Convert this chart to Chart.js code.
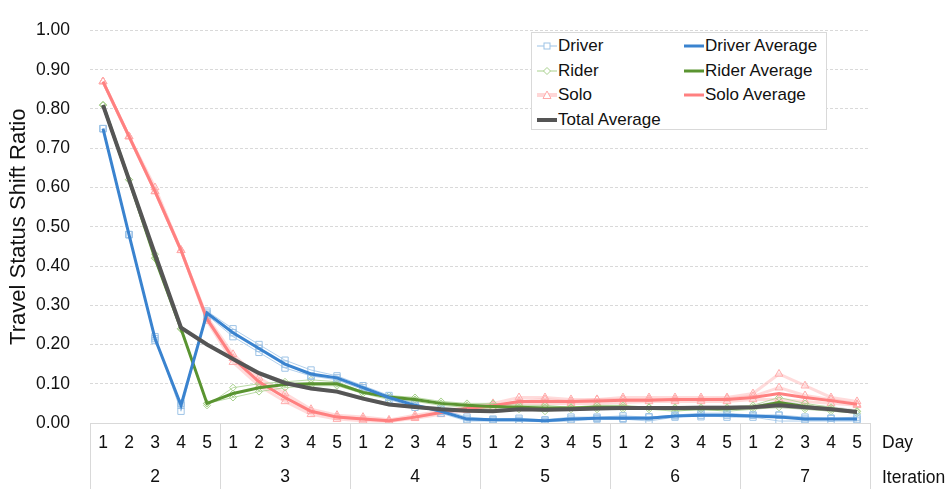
<!DOCTYPE html>
<html>
<head>
<meta charset="utf-8">
<script src="https://cdn.jsdelivr.net/npm/chart.js@4.4.0/dist/chart.umd.min.js"></script>
<style>
  body { margin: 0; background: #fff; font-family: "Liberation Sans", Arial, sans-serif; }
  #wrap { position: relative; width: 949px; height: 489px; }
  #legend { position: absolute; left: 531px; top: 32px; width: 296px; height: 98px;
            border: 1px solid #d9d9d9; background: #fff; box-sizing: border-box; }
  .item { position: absolute; height: 20px; display: flex; align-items: center;
          font-size: 17px; color: #111; white-space: nowrap; }
  .item svg { margin-right: 1px; }
  .axisname { position: absolute; left: 882px; font-size: 17.5px; color: #111; line-height: 21px; }
</style>
</head>
<body>
<div id="wrap">
  <canvas id="chart" width="949" height="489"></canvas>
  <div id="legend"></div>
  <div class="axisname" style="top:432px">Day</div>
  <div class="axisname" style="top:467px">Iteration</div>
</div>
<script>
// x axis labels
const days = ['1','2','3','4','5', '1','2','3','4','5', '1','2','3','4','5',
              '1','2','3','4','5', '1','2','3','4','5', '1','2','3','4','5'];
const iterations = ['2','3','4','5','6','7'];

// individual runs
const driverRuns = [
  [0.75,0.48,0.22,0.03,0.285, 0.24,0.2,0.16,0.135,0.12, 0.095,0.07,0.05,0.025,0.005, 0.005,0.005,0.003,0.005,0.01, 0.01,0.005,0.015,0.02,0.015, 0.015,0.005,0.005,0.005,0.005],
  [0.75,0.48,0.21,0.05,0.275, 0.22,0.18,0.14,0.12,0.11, 0.085,0.06,0.04,0.035,0.015, 0.01,0.012,0.008,0.015,0.015, 0.018,0.015,0.02,0.025,0.025, 0.02,0.02,0.015,0.012,0.015],
  [0.75,0.48,0.215,0.045,0.28, 0.23,0.19,0.15,0.12,0.115, 0.09,0.065,0.045,0.03,0.01, 0.008,0.007,0.007,0.01,0.012, 0.012,0.016,0.018,0.016,0.02, 0.02,0.02,0.01,0.012,0.01]
];
const riderRuns = [
  [0.81,0.62,0.43,0.24,0.045, 0.09,0.1,0.105,0.11,0.105, 0.08,0.07,0.065,0.055,0.05, 0.05,0.045,0.045,0.04,0.045, 0.045,0.04,0.04,0.04,0.04, 0.045,0.065,0.05,0.04,0.03],
  [0.81,0.62,0.42,0.24,0.05, 0.065,0.08,0.09,0.095,0.095, 0.075,0.06,0.055,0.045,0.04, 0.035,0.035,0.03,0.035,0.035, 0.035,0.035,0.03,0.035,0.03, 0.035,0.04,0.035,0.03,0.025],
  [0.81,0.62,0.42,0.24,0.05, 0.075,0.09,0.1,0.1,0.1, 0.08,0.065,0.06,0.05,0.045, 0.04,0.04,0.04,0.04,0.04, 0.04,0.04,0.038,0.035,0.038, 0.04,0.05,0.04,0.035,0.03]
];
const soloRuns = [
  [0.87,0.73,0.6,0.44,0.27, 0.175,0.115,0.075,0.035,0.02, 0.015,0.008,0.02,0.03,0.04, 0.05,0.065,0.065,0.06,0.06, 0.065,0.065,0.065,0.065,0.065, 0.075,0.125,0.095,0.065,0.055],
  [0.87,0.73,0.59,0.44,0.26, 0.155,0.095,0.055,0.022,0.01, 0.006,0.004,0.012,0.022,0.032, 0.04,0.05,0.05,0.05,0.05, 0.052,0.055,0.055,0.055,0.055, 0.06,0.06,0.055,0.05,0.045],
  [0.87,0.73,0.59,0.44,0.265, 0.165,0.105,0.065,0.03,0.015, 0.01,0.005,0.015,0.028,0.038, 0.045,0.055,0.06,0.055,0.06, 0.06,0.06,0.06,0.06,0.062, 0.068,0.09,0.07,0.06,0.048]
];
const totalRuns = [
  [0.81,0.62,0.43,0.245,0.2, 0.165,0.13,0.105,0.09,0.083, 0.065,0.05,0.044,0.038,0.034, 0.033,0.037,0.037,0.038,0.04, 0.04,0.04,0.04,0.042,0.042, 0.043,0.055,0.046,0.04,0.032],
  [0.81,0.62,0.43,0.24,0.2, 0.16,0.124,0.099,0.086,0.077, 0.06,0.045,0.039,0.033,0.029, 0.028,0.033,0.032,0.033,0.035, 0.036,0.036,0.036,0.037,0.037, 0.038,0.04,0.036,0.032,0.026]
];

// averages
const driverAvg = [0.75,0.48,0.215,0.045,0.28, 0.23,0.19,0.15,0.125,0.115, 0.09,0.065,0.045,0.03,0.01, 0.008,0.008,0.006,0.01,0.012, 0.013,0.012,0.018,0.02,0.02, 0.018,0.015,0.01,0.01,0.01];
const riderAvg  = [0.81,0.62,0.42,0.24,0.05, 0.075,0.09,0.098,0.1,0.1, 0.078,0.066,0.06,0.05,0.045, 0.042,0.04,0.038,0.038,0.04, 0.04,0.038,0.036,0.036,0.036, 0.04,0.052,0.042,0.036,0.028];
const soloAvg   = [0.87,0.73,0.59,0.44,0.265, 0.165,0.105,0.065,0.03,0.015, 0.01,0.006,0.015,0.027,0.037, 0.044,0.055,0.055,0.055,0.056, 0.058,0.058,0.06,0.06,0.06, 0.065,0.075,0.065,0.057,0.048];
const totalAvg  = [0.81,0.62,0.43,0.243,0.2, 0.163,0.127,0.102,0.088,0.08, 0.062,0.047,0.041,0.035,0.031, 0.03,0.035,0.034,0.035,0.037, 0.038,0.038,0.038,0.039,0.039, 0.04,0.045,0.04,0.035,0.028];

const FONT = "'Liberation Sans', Arial, sans-serif";

const datasets = [];
function addRuns(runs, label, style) {
  runs.forEach(d => {
    datasets.push(Object.assign({
      label: label, data: d, order: 10, tension: 0,
      pointBackgroundColor: 'rgba(255,255,255,0)', pointBorderWidth: 1
    }, style));
  });
}
addRuns(driverRuns, 'Driver', { borderColor: 'rgba(157,195,230,0.8)', pointBorderColor: '#9dc3e6', borderWidth: 1, pointStyle: 'rect', pointRadius: 4.5 });
addRuns(riderRuns, 'Rider', { borderColor: 'rgba(169,209,142,0.8)', pointBorderColor: '#a9d18e', borderWidth: 1, pointStyle: 'rectRot', pointRadius: 3.5 });
addRuns(soloRuns, 'Solo', { borderColor: 'rgba(255,175,175,0.45)', pointBorderColor: '#ffaaaa', borderWidth: 3, pointStyle: 'triangle', pointRadius: 4.5 });
addRuns(totalRuns, 'Total', { borderColor: 'rgba(200,200,200,0.7)', borderWidth: 2, pointRadius: 0 });

datasets.push({ label: 'Driver Average', data: driverAvg, borderColor: '#3a83cf', borderWidth: 3, pointRadius: 0, order: 2 });
datasets.push({ label: 'Rider Average', data: riderAvg, borderColor: '#5a9431', borderWidth: 3, pointRadius: 0, order: 2 });
datasets.push({ label: 'Solo Average', data: soloAvg, borderColor: '#ff8080', borderWidth: 3, pointRadius: 0, order: 2 });
datasets.push({ label: 'Total Average', data: totalAvg, borderColor: '#555555', borderWidth: 4, pointRadius: 0, order: 1 });

// vertical separators of the two-level x axis
const groupLines = {
  id: 'groupLines',
  afterDraw(chart) {
    const xs = chart.scales.x, ctx = chart.ctx;
    const per = days.length / iterations.length;
    ctx.save();
    ctx.strokeStyle = '#d9d9d9';
    ctx.lineWidth = 1;
    for (let k = 0; k <= iterations.length; k++) {
      const px = Math.round(xs.getPixelForValue(k * per - 0.5)) + 0.5;
      ctx.beginPath();
      ctx.moveTo(px, xs.top);
      ctx.lineTo(px, chart.height);
      ctx.stroke();
    }
    ctx.restore();
  }
};

new Chart(document.getElementById('chart'), {
  type: 'line',
  data: { labels: days, datasets: datasets },
  plugins: [groupLines],
  options: {
    responsive: false,
    animation: false,
    layout: { padding: { top: 17, right: 79, left: 0, bottom: 0 } },
    plugins: { legend: { display: false }, tooltip: { enabled: false } },
    scales: {
      y: {
        min: 0, max: 1,
        ticks: { stepSize: 0.1, padding: 20, color: '#111', font: { family: FONT, size: 17.5 },
                 callback: v => v.toFixed(2) },
        grid: { color: '#d9d9d9', drawTicks: false },
        border: { display: false, dash: [3, 2] },
        title: { display: true, text: 'Travel Status Shift Ratio', color: '#111',
                 font: { family: FONT, size: 22 }, padding: { top: 6, bottom: 0 } },
        afterFit: s => { s.width = 90; }
      },
      x: {
        weight: 0,
        offset: true,
        ticks: { padding: 10, color: '#111', font: { family: FONT, size: 17.5 }, maxRotation: 0, autoSkip: false },
        grid: { drawOnChartArea: false, drawTicks: false },
        border: { display: true, color: '#d9d9d9', width: 1 },
        afterFit: s => { s.height = 34; }
      },
      x2: {
        type: 'category',
        labels: iterations,
        position: 'bottom',
        weight: 1,
        offset: true,
        ticks: { padding: 10, color: '#111', font: { family: FONT, size: 17.5 }, maxRotation: 0 },
        grid: { display: false, drawTicks: false },
        border: { display: false },
        afterFit: s => { s.height = 32; }
      }
    }
  }
});

// legend laid out in two columns like the original
const legendItems = [
  { text: 'Driver', col: 0, row: 0, color: '#9dc3e6', w: 1, marker: 'rect' },
  { text: 'Rider', col: 0, row: 1, color: '#a9d18e', w: 1, marker: 'diamond' },
  { text: 'Solo', col: 0, row: 2, color: '#ffaaaa', w: 4, marker: 'triangle', lineColor: 'rgba(255,175,175,0.5)' },
  { text: 'Total Average', col: 0, row: 3, color: '#555555', w: 4 },
  { text: 'Driver Average', col: 1, row: 0, color: '#3a83cf', w: 3 },
  { text: 'Rider Average', col: 1, row: 1, color: '#5a9431', w: 3 },
  { text: 'Solo Average', col: 1, row: 2, color: '#ff8080', w: 3 }
];
const legend = document.getElementById('legend');
legendItems.forEach(it => {
  let mark = '';
  if (it.marker === 'rect') mark = `<rect x="7" y="3" width="6" height="6" fill="#fff" stroke="${it.color}" stroke-width="1"/>`;
  if (it.marker === 'diamond') mark = `<polygon points="10,2.5 13.5,6 10,9.5 6.5,6" fill="#fff" stroke="${it.color}" stroke-width="1"/>`;
  if (it.marker === 'triangle') mark = `<polygon points="10,2 14,9.5 6,9.5" fill="#fff" stroke="${it.color}" stroke-width="1"/>`;
  const div = document.createElement('div');
  div.className = 'item';
  div.style.left = (it.col === 0 ? 5 : 152) + 'px';
  div.style.top = (3 + it.row * 24.7) + 'px';
  div.innerHTML = `<svg width="20" height="12"><line x1="0" y1="6" x2="20" y2="6" stroke="${it.lineColor || it.color}" stroke-width="${it.w}"/>${mark}</svg>${it.text}`;
  legend.appendChild(div);
});
</script>
</body>
</html>
